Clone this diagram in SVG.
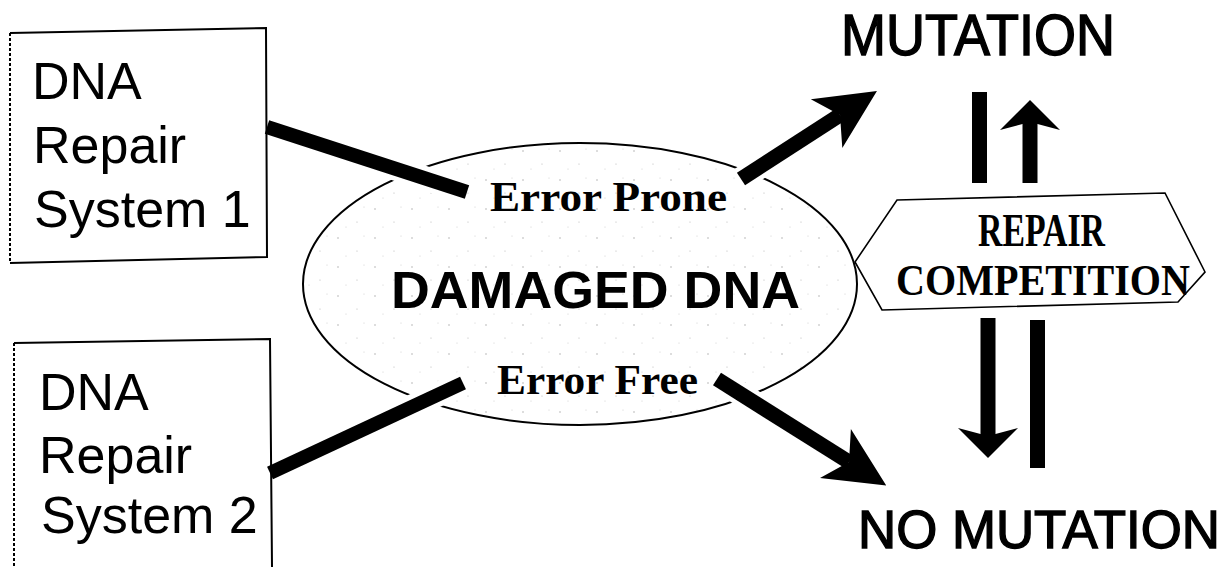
<svg xmlns="http://www.w3.org/2000/svg" width="1227" height="567" viewBox="0 0 1227 567">
  <style>
    .frame { fill: none; stroke: #000; stroke-width: 2; }
    .frame-dash { fill: none; stroke: #000; stroke-width: 2; stroke-dasharray: 3 2; }
    .sans { font-family: "Liberation Sans", Arial, sans-serif; fill: #000; }
    .serif { font-family: "Liberation Serif", "Times New Roman", serif; font-weight: bold; fill: #000; }
    .box-text { font-size: 52px; }
    .heavy { stroke: #000; stroke-width: 1.4; }
    .bar { fill: none; stroke: #000; stroke-width: 14; stroke-linecap: butt; }
    .arrow { fill: none; stroke: #000; stroke-width: 15; stroke-linecap: butt; }
    .halo { fill: none; stroke: #fff; stroke-width: 24; stroke-linecap: butt; }
  </style>
  <defs>
    <marker id="headLong" markerUnits="userSpaceOnUse" viewBox="0 0 62 62" markerWidth="62" markerHeight="62" refX="18" refY="31" orient="auto">
      <path d="M62,31 L2,2 L18,31 L2,60 Z" fill="#000"/>
    </marker>
    <marker id="headShort" markerUnits="userSpaceOnUse" viewBox="0 0 32 62" markerWidth="32" markerHeight="62" refX="10" refY="31" orient="auto">
      <path d="M32,31 L2,1 L10,31 L2,61 Z" fill="#000"/>
    </marker>
    <pattern id="stipple" patternUnits="userSpaceOnUse" width="37" height="29">
      <circle cx="5" cy="6" r="0.7" fill="#a0a0a0"/>
      <circle cx="24" cy="19" r="0.6" fill="#b4b4b4"/>
      <circle cx="31" cy="4" r="0.5" fill="#c4c4c4"/>
      <circle cx="13" cy="24" r="0.5" fill="#c4c4c4"/>
    </pattern>
  </defs>

  <rect width="1227" height="567" fill="#fff"/>

  <!-- DNA Repair System 1 -->
  <g id="repair-system-1">
    <polyline class="frame" points="10,33 266,28 267,257 10,263"/>
    <line class="frame-dash" x1="10" y1="33" x2="10" y2="263"/>
    <text class="sans box-text" x="32" y="99">DNA</text>
    <text class="sans box-text" x="33" y="163">Repair</text>
    <text class="sans box-text" x="34" y="227">System 1</text>
  </g>

  <!-- DNA Repair System 2 -->
  <g id="repair-system-2">
    <polyline class="frame" points="14,343 270,339 272,567"/>
    <line class="frame-dash" x1="14" y1="343" x2="14" y2="567" stroke-dasharray="2 2"/>
    <text class="sans box-text" x="39" y="410">DNA</text>
    <text class="sans box-text" x="39" y="473">Repair</text>
    <text class="sans box-text" x="41" y="533">System 2</text>
  </g>

  <!-- Damaged DNA ellipse -->
  <g id="damaged-dna">
    <ellipse cx="580" cy="284" rx="277" ry="141" fill="url(#stipple)" stroke="#000" stroke-width="2"/>
    <text class="serif" x="490" y="211" font-size="42" textLength="237" lengthAdjust="spacingAndGlyphs">Error Prone</text>
    <text class="sans" x="391" y="308" font-size="51" font-weight="bold" textLength="409" lengthAdjust="spacingAndGlyphs">DAMAGED DNA</text>
    <text class="serif" x="497" y="394" font-size="42" textLength="201" lengthAdjust="spacingAndGlyphs">Error Free</text>
  </g>

  <!-- Repair competition hexagon -->
  <g id="repair-competition">
    <polygon points="897,200 1165,193 1205,272 1178,302 882,310 855,262" fill="none" stroke="#000" stroke-width="1.6"/>
    <text class="serif" x="978" y="246" font-size="46" textLength="127" lengthAdjust="spacingAndGlyphs">REPAIR</text>
    <text class="serif" x="896" y="295" font-size="45" textLength="294" lengthAdjust="spacingAndGlyphs">COMPETITION</text>
  </g>

  <!-- Outcomes -->
  <g id="mutation">
    <text class="sans heavy" x="841" y="55" font-size="57" textLength="274" lengthAdjust="spacingAndGlyphs">MUTATION</text>
  </g>
  <g id="no-mutation">
    <text class="sans heavy" x="858" y="548" font-size="53" textLength="362" lengthAdjust="spacingAndGlyphs">NO MUTATION</text>
  </g>

  <!-- Connectors -->
  <g id="connectors">
    <!-- white gaps where the bars cross the ellipse outline -->
    <path class="halo" d="M345,152 L467,192"/>
    <path class="halo" d="M357,432 L463,383"/>
    <path class="halo" d="M741,179 L840,115"/>
    <path class="halo" d="M717,379 L849,462"/>

    <path class="bar" d="M267,127 L467,192"/>
    <path class="bar" d="M270,473 L463,383"/>
    <path class="arrow" d="M741,179 L840,115" marker-end="url(#headLong)"/>
    <path class="arrow" d="M717,379 L849,462" marker-end="url(#headLong)"/>

    <!-- competition symbols -->
    <rect x="972" y="92" width="15" height="91" fill="#000"/>
    <path class="arrow" d="M1030,183 L1030,122" marker-end="url(#headShort)"/>
    <path class="arrow" d="M988,318 L988,436" marker-end="url(#headShort)"/>
    <rect x="1030" y="320" width="15" height="148" fill="#000"/>
  </g>
</svg>
